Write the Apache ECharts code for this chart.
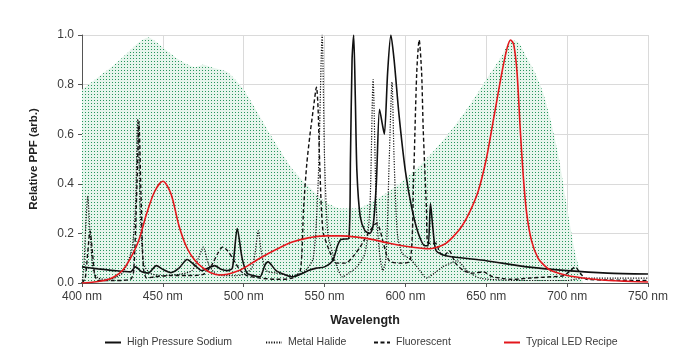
<!DOCTYPE html>
<html>
<head>
<meta charset="utf-8">
<script src="https://cdn.jsdelivr.net/npm/echarts@6/dist/echarts.min.js"></script>
<style>
html,body{margin:0;padding:0;background:#fff;}
#c{width:683px;height:362px;}
</style>
</head>
<body>
<div id="c"></div>
<script>
// PAR action spectrum (green dotted area)
const parX = [400,410,420,430,435,441,450,460,470,475,480,490,500,510,520,530,540,550,560,570,580,590,600,610,620,630,640,650,660,665,670,675,680,685,690,695,700,705,710];
const parY = [0.78,0.83,0.88,0.94,0.97,0.99,0.95,0.90,0.87,0.88,0.87,0.85,0.78,0.67,0.56,0.46,0.39,0.33,0.30,0.30,0.33,0.37,0.42,0.48,0.55,0.63,0.72,0.82,0.92,0.98,0.97,0.91,0.85,0.77,0.65,0.50,0.30,0.12,0.0];

// High Pressure Sodium
const hpsX = [400,410,420,430,433,437,441,446,450,455,460,465,470,474,478,482,486,490,493,496,499,502,506,510,513,515,520,525,530,535,540,545,550,555,558,560,565,566,567,568,569,570,572,575,578,580,582,584,586,587,589,591,593,596,600,604,608,612,614,615.5,617,619,625,650,675,700,725,750];
const hpsY = [0.065,0.057,0.05,0.045,0.065,0.045,0.04,0.07,0.055,0.042,0.06,0.095,0.07,0.05,0.06,0.07,0.055,0.05,0.06,0.22,0.1,0.04,0.03,0.025,0.07,0.085,0.05,0.035,0.025,0.035,0.05,0.06,0.065,0.09,0.15,0.175,0.18,0.5,0.9,1.0,0.75,0.45,0.27,0.21,0.2,0.23,0.4,0.70,0.63,0.6,0.85,1.0,0.9,0.68,0.45,0.3,0.2,0.15,0.15,0.32,0.22,0.13,0.11,0.09,0.065,0.05,0.04,0.036];

// Metal Halide
const mhX = [400,401,402.5,403.5,405,407,410,415,420,425,428,431,433,434.5,436,438,442,450,460,468,472,475,478,482,487,495,500,505,507,509,511,514,520,530,538,543,546,548.5,550,552,555,558,561,565,570,575,578,580,582,584,586,588,590,591.7,593,595,598,604,609,613,618,623,628,632,638,646,660,680,700,705,710,730,750];
const mhY = [0.0,0.05,0.25,0.35,0.2,0.05,0.02,0.015,0.02,0.04,0.08,0.14,0.3,0.66,0.3,0.08,0.04,0.03,0.035,0.05,0.1,0.145,0.08,0.04,0.03,0.03,0.035,0.06,0.12,0.21,0.12,0.05,0.04,0.03,0.05,0.1,0.4,1.0,0.5,0.2,0.12,0.06,0.025,0.04,0.065,0.12,0.3,0.82,0.3,0.12,0.05,0.1,0.5,0.81,0.5,0.2,0.12,0.09,0.05,0.02,0.04,0.065,0.08,0.09,0.05,0.02,0.012,0.01,0.01,0.015,0.02,0.02,0.02];

// Fluorescent
const flX = [400,402,403.5,405,406.5,408,410,420,430,432,434,435.2,436.5,438,440,445,455,465,475,480,484,487,490,494,498,502,510,520,530,535,537,539,541,542,543,545,546,547,549,553,557,563,568,572,577,582,584,586,590,597,603,605,607,608.5,610,611,613,614,619,621,624,627,631,636,642,648,654,666,677,690,698,702,705,708,712,725,750];
const flY = [0.0,0.02,0.12,0.21,0.12,0.03,0.01,0.01,0.015,0.05,0.4,0.65,0.35,0.06,0.02,0.025,0.03,0.03,0.035,0.07,0.12,0.145,0.13,0.09,0.05,0.03,0.02,0.015,0.02,0.05,0.3,0.48,0.6,0.65,0.70,0.79,0.7,0.48,0.21,0.13,0.08,0.08,0.11,0.145,0.2,0.24,0.22,0.17,0.09,0.08,0.09,0.41,0.85,0.98,0.85,0.62,0.3,0.16,0.16,0.125,0.11,0.13,0.08,0.05,0.04,0.045,0.025,0.015,0.02,0.025,0.03,0.05,0.065,0.04,0.015,0.012,0.01];

// Typical LED Recipe
const ledX = [400,405,410,415,420,425,430,435,440,445,450,455,460,465,470,475,480,485,490,495,500,510,520,530,540,550,560,570,580,590,600,610,615,620,625,630,635,640,645,650,655,660,663,665,667,669,671,673,675,678,682,686,690,700,710,720,730,740,750];
const ledY = [0.0,0.002,0.006,0.012,0.025,0.05,0.1,0.17,0.28,0.37,0.41,0.36,0.23,0.14,0.09,0.06,0.04,0.032,0.035,0.045,0.06,0.1,0.135,0.165,0.182,0.19,0.19,0.185,0.175,0.16,0.148,0.14,0.138,0.145,0.16,0.19,0.23,0.29,0.37,0.5,0.68,0.86,0.95,0.98,0.96,0.85,0.62,0.42,0.28,0.17,0.1,0.07,0.05,0.03,0.02,0.013,0.009,0.006,0.004];

const xTicks = [400,450,500,550,600,650,700,750];
const yTicks = [0.0,0.2,0.4,0.6,0.8,1.0];

const seriesNames = ['High Pressure Sodium','Metal Halide','Fluorescent','Typical LED Recipe'];

function pairs(xs, ys){ return xs.map((x,i)=>[x, ys[i]]); }

// dotted green pattern
const pat = document.createElement('canvas');
pat.width = 3; pat.height = 3;
const pc = pat.getContext('2d');
pc.fillStyle = 'rgb(230,245,236)';
pc.fillRect(0,0,3,3);
pc.fillStyle = 'rgb(38,150,92)';
pc.fillRect(1,1,1,1);

const FONT = "'Liberation Sans Narrow','Liberation Sans',Arial,sans-serif";
const TXT = '#3b3b3b';

const chart = echarts.init(document.getElementById('c'), null, {renderer:'canvas'});

const legendLefts = [104, 265, 373, 503];

chart.setOption({
  animation: false,
  backgroundColor: '#ffffff',
  grid: {left: 82, right: 35, top: 35, bottom: 79, containLabel: false},
  legend: seriesNames.map((n,i)=>({
    data: [n], left: legendLefts[i], top: 337,
    itemWidth: 16, itemHeight: 8, itemGap: 4,
    itemStyle: {opacity: 0},
    textStyle: {fontFamily: FONT, fontSize: 10.5, color: TXT, padding:[0,0,0,1]},
    padding: 0
  })),
  xAxis: {
    type: 'value', min: 400, max: 750, interval: 50,
    name: 'Wavelength', nameLocation: 'middle', nameGap: 31,
    nameTextStyle: {fontFamily: FONT, fontSize: 12.5, fontWeight: 'bold', color: '#222'},
    axisLine: {show: true, lineStyle: {color: '#555', width: 1}},
    axisTick: {show: true, length: 4, lineStyle: {color: '#555'}},
    axisLabel: {fontFamily: FONT, fontSize: 12, color: TXT, margin: 8,
      formatter: v => xTicks.includes(v) ? v + ' nm' : ''},
    splitLine: {show: true, lineStyle: {color: '#dadada', width: 1}}
  },
  yAxis: {
    type: 'value', min: 0, max: 1, interval: 0.2,
    name: 'Relative PPF (arb.)', nameLocation: 'middle', nameGap: 42, nameRotate: 90,
    nameTextStyle: {fontFamily: FONT, fontSize: 11.5, fontWeight: 'bold', color: '#222'},
    axisLine: {show: true, lineStyle: {color: '#555', width: 1}},
    axisTick: {show: true, length: 4, lineStyle: {color: '#555'}},
    axisLabel: {fontFamily: FONT, fontSize: 12, color: TXT, margin: 8,
      formatter: v => yTicks.some(t=>Math.abs(t-v)<1e-9) ? v.toFixed(1) : ''},
    splitLine: {show: true, lineStyle: {color: '#dadada', width: 1}}
  },
  series: [
    {
      name: 'PAR', type: 'line', data: pairs(parX, parY), symbol: 'none', smooth: 0.2,
      lineStyle: {width: 0, opacity: 0},
      areaStyle: {color: {image: pat, repeat: 'repeat'}, opacity: 1},
      silent: true, z: 1
    },
    {
      name: seriesNames[0], type: 'line', data: pairs(hpsX, hpsY), symbol: 'none', smooth: 0.25,
      lineStyle: {color: '#111', width: 1.6, type: 'solid'}, itemStyle: {color: '#111'}, z: 3
    },
    {
      name: seriesNames[1], type: 'line', data: pairs(mhX, mhY), symbol: 'none', smooth: 0.25,
      lineStyle: {color: '#111', width: 1.2, type: [1.2,1.4]}, itemStyle: {color: '#111'}, z: 3
    },
    {
      name: seriesNames[2], type: 'line', data: pairs(flX, flY), symbol: 'none', smooth: 0.25,
      lineStyle: {color: '#111', width: 1.4, type: [4,2.5]}, itemStyle: {color: '#111'}, z: 3
    },
    {
      name: seriesNames[3], type: 'line', data: pairs(ledX, ledY), symbol: 'none', smooth: 0.3,
      lineStyle: {color: '#e3171c', width: 1.6}, itemStyle: {color: '#e3171c'}, z: 4
    }
  ]
});
</script>
</body>
</html>
